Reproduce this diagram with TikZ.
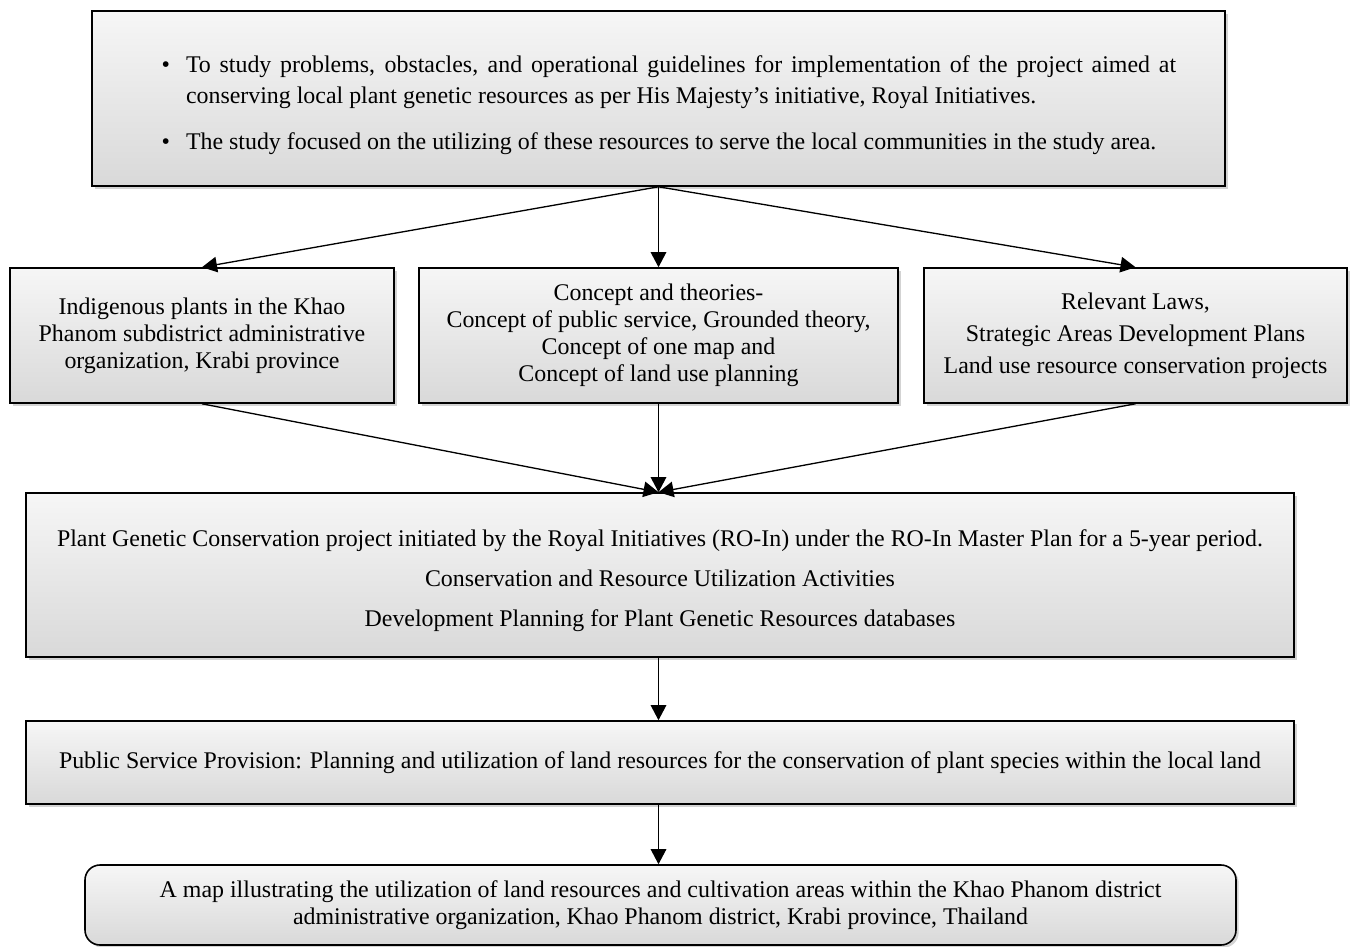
\documentclass[tikz,border=0pt]{standalone}
\usepackage{fontspec}
\setmainfont{Liberation Serif}
\usepackage{tikz}
\usetikzlibrary{arrows.meta}
\usetikzlibrary{shadows}

\begin{document}
\begin{tikzpicture}[
    flowbox/.style={draw=black, line width=0.9pt, top color=gray!7, bottom color=gray!30,
        drop shadow={shadow xshift=1.5pt, shadow yshift=-1.5pt, opacity=0.35},
        inner sep=0pt, align=center, font=\fontsize{13.6}{15.4}\selectfont},
    link/.style={line width=0.75pt, -{Triangle[length=0.3cm,width=0.31cm]}}]
    \useasboundingbox (0,0) rectangle (27.02,-18.94);
    % aims of the study
    \node[flowbox, text width=22.66cm, minimum height=3.5cm, align=justify,
        font=\fontsize{13.6}{17.6}\selectfont] (aims) at (13.17,-1.97) {%
        \begin{list}{\textbullet}{\leftmargin=1.88cm \rightmargin=0.98cm \labelsep=0.32cm
            \itemsep=0.3cm \topsep=0pt \partopsep=0pt \parsep=0pt}
        \item To study problems, obstacles, and operational guidelines for implementation of the project aimed at\linebreak
            conserving local plant genetic resources as per His Majesty’s initiative, Royal Initiatives.
        \item The study focused on the utilizing of these resources to serve the local communities in the study area.
        \end{list}};
    % inputs
    \node[flowbox, minimum width=7.68cm, minimum height=2.7cm] (plants) at (4.04,-6.71)
        {Indigenous plants in the Khao\\ Phanom subdistrict administrative\\ organization, Krabi province};
    \node[flowbox, minimum width=9.58cm, minimum height=2.7cm] (theory) at (13.17,-6.71)
        {Concept and theories-\\ Concept of public service, Grounded theory,\\ Concept of one map and\\ Concept of land use planning};
    \node[flowbox, minimum width=8.46cm, minimum height=2.7cm,
        font=\fontsize{13.6}{18.2}\selectfont] (laws) at (22.71,-6.71)
        {Relevant Laws,\\ Strategic Areas Development Plans\\ Land use resource conservation projects};
    % project
    \node[flowbox, minimum width=25.36cm, minimum height=3.28cm,
        font=\fontsize{13.6}{22.8}\selectfont] (plan) at (13.2,-11.5)
        {\rule{0pt}{0.55cm}Plant Genetic Conservation project initiated by the Royal Initiatives (RO-In) under the RO-In Master Plan for a 5-year period.\\
        Conservation and Resource Utilization Activities\\
        Development Planning for Plant Genetic Resources databases};
    \node[flowbox, minimum width=25.36cm, minimum height=1.66cm] (service) at (13.2,-15.25)
        {Public Service Provision: Planning and utilization of land resources for the conservation of plant species within the local land};
    \node[flowbox, rounded corners=0.3cm, minimum width=23.02cm, minimum height=1.6cm] (mapbox) at (13.21,-18.1)
        {A map illustrating the utilization of land resources and cultivation areas within the Khao Phanom district\\
        administrative organization, Khao Phanom district, Krabi province, Thailand};
    % connectors
    \draw[link] (aims.south) -- (plants.north);
    \draw[link] (aims.south) -- (theory.north);
    \draw[link] (aims.south) -- (laws.north);
    \draw[link] (plants.south) -- (plan.north -| theory.south);
    \draw[link] (theory.south) -- (plan.north -| theory.south);
    \draw[link] (laws.south) -- (plan.north -| theory.south);
    \draw[link] (plan.south -| theory.south) -- (service.north -| theory.south);
    \draw[link] (service.south -| theory.south) -- (mapbox.north -| theory.south);
\end{tikzpicture}
\end{document}
